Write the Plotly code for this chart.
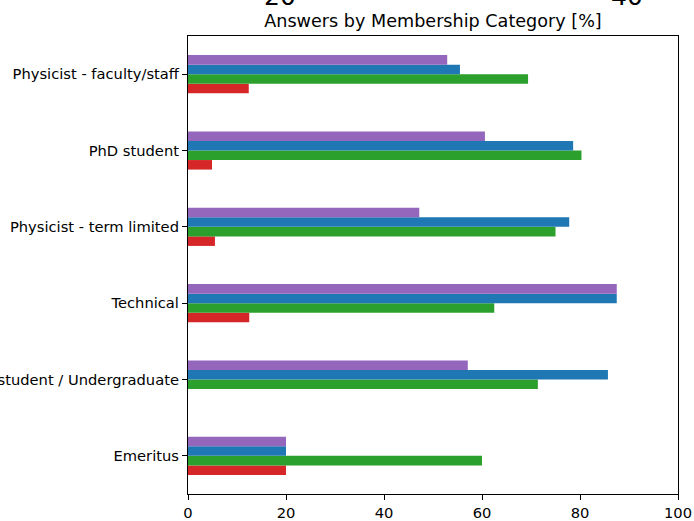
import plotly.graph_objects as go

categories = ["Emeritus", "Master student / Undergraduate", "Technical",
              "Physicist - term limited", "PhD student", "Physicist - faculty/staff"]
series_names = ["A", "B", "C", "D"]
red_vals = [20.0, 0.0, 12.5, 5.5, 4.9, 12.4]
green_vals = [60.0, 71.4, 62.5, 75.0, 80.3, 69.4]
blue_vals = [20.0, 85.7, 87.5, 77.8, 78.6, 55.5]
purple_vals = [20.0, 57.1, 87.5, 47.2, 60.6, 52.9]
colors = ["#d62728", "#2ca02c", "#1f77b4", "#9467bd"]
x_ticks = [0, 20, 40, 60, 80, 100]

fig = go.Figure()
for name, vals, c in zip(series_names, [red_vals, green_vals, blue_vals, purple_vals], colors):
    fig.add_trace(go.Bar(y=categories, x=vals, orientation="h", name=name,
                         marker=dict(color=c, line=dict(width=0))))

font = "DejaVu Sans"
fig.update_layout(
    template="none",
    width=694, height=521,
    margin=dict(l=188, r=16, t=36, b=27, pad=0),
    plot_bgcolor="white", paper_bgcolor="white",
    barmode="group", bargap=0.5, bargroupgap=0,
    showlegend=False,
    font=dict(family=font, size=14.7, color="black"),
    title=dict(text="Answers by Membership Category [%]", x=(188 + 245) / 694, xanchor="center",
               y=1 - 21 / 521, yanchor="middle", font=dict(size=17.6, family=font, color="black")),
)
fig.update_xaxes(range=[0, 100], tickvals=x_ticks, ticks="outside", ticklen=5, tickwidth=1,
                 tickcolor="black", showline=True, linecolor="black", linewidth=1.2, mirror=True,
                 showgrid=False, zeroline=False, tickfont=dict(size=14.7), automargin=False)
fig.update_yaxes(categoryorder="array", categoryarray=categories, range=[-0.5, 5.5],
                 ticks="outside", ticklen=5, tickwidth=1, tickcolor="black",
                 showline=True, linecolor="black", linewidth=1.2, mirror=True,
                 showgrid=False, zeroline=False, tickfont=dict(size=14.7), automargin=False)

for txt, xp in [("20", (280 - 188) / 490), ("40", (627 - 188) / 490)]:
    fig.add_annotation(text=txt, x=xp, xref="paper", y=1 + 23 / 458, yref="paper",
                       xanchor="center", yanchor="bottom", showarrow=False,
                       font=dict(size=25, family=font, color="black"))

fig.write_html("out.html", config={"displayModeBar": False})

with open("out.html", "r", encoding="utf-8") as f:
    html = f.read()
html = html.replace("<body>", '<body style="margin:0;padding:0;overflow:hidden">', 1)
with open("out.html", "w", encoding="utf-8") as f:
    f.write(html)
